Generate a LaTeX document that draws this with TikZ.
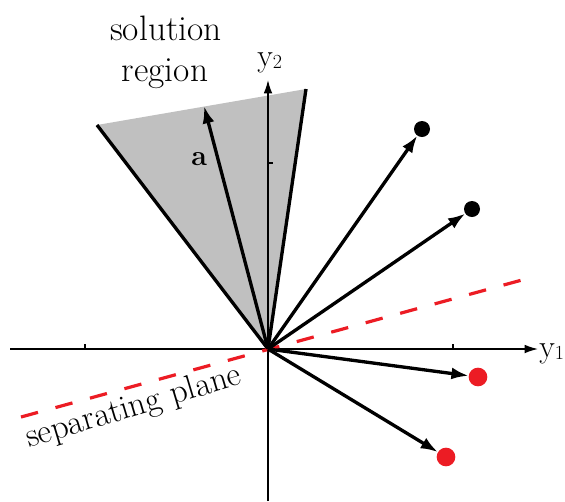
\documentclass[tikz,border=0pt]{standalone}
\usetikzlibrary{arrows.meta}
\definecolor{regiongray}{RGB}{192,192,192}
\definecolor{ptred}{RGB}{236,28,36}
\begin{document}
\begin{tikzpicture}[x=0.75pt,y=-0.75pt,
  axis/.style={line width=1.1pt},
  axisarrow/.style={axis,-{Latex[length=10pt,width=6.5pt]}},
  vec/.style={line width=2.5pt,-{Latex[length=13pt,width=9pt]}},
  edge/.style={line width=2.5pt},
  bdot/.style={circle,fill=black,inner sep=0pt,outer sep=0pt,minimum size=12pt},
  rdot/.style={circle,fill=ptred,inner sep=0pt,outer sep=0pt,minimum size=14pt},
  sep/.style={ptred,line width=2.4pt,dash pattern=on 13.2pt off 13.6pt},
  lbl/.style={inner sep=0pt,font=\fontsize{26.5}{30}\selectfont},
  axlbl/.style={inner sep=0pt,font=\fontsize{24}{26}\selectfont}
]
\useasboundingbox (0,0) rectangle (565,501);
\coordinate (O) at (268,349);
\coordinate (cl) at (97,125);
\coordinate (cr) at (306,89);
\coordinate (atip) at (204,106);
% solution region
\fill[regiongray] (O) -- (cl) -- (cr) -- cycle;
\draw[edge] (cl) -- (O) -- (cr);
% axes
\coordinate (xs) at (10,349);
\coordinate (xe) at (538,349);
\coordinate (ys) at (268,501);
\coordinate (ye) at (268,80);
\draw[axisarrow] (xs) -- (xe);
\draw[axisarrow] (ys) -- (ye);
\coordinate (t1) at (85,349); \coordinate (t1e) at (85,344);
\coordinate (t2) at (453,349); \coordinate (t2e) at (453,344);
\coordinate (t3) at (268,163); \coordinate (t3e) at (273,163);
\draw[axis] (t1) -- (t1e);
\draw[axis] (t2) -- (t2e);
\draw[axis] (t3) -- (t3e);
% separating plane
\coordinate (sl) at (21,417);
\coordinate (sr) at (522,280);
\draw[sep] (sl) -- (sr);
% points
\node[bdot] (b1) at (422,129) {};
\node[bdot] (b2) at (472,209) {};
\node[rdot] (r1) at (478,377) {};
\node[rdot] (r2) at (446,457) {};
% vectors
\draw[vec] (O) -- (atip);
\draw[vec] (O) -- (b1);
\draw[vec] (O) -- (b2);
\draw[vec] (O) -- (r1);
\draw[vec] (O) -- (r2);
% labels
\node[lbl,anchor=base] (sol1) at (166,40) {solution};
\node[lbl,anchor=base] (sol2) at (165,81) {region};
\node[axlbl,anchor=base west] (y2) at (257,66) {y\raisebox{-2pt}{\fontsize{15}{15}\selectfont 2}};
\node[axlbl,anchor=base west] (y1) at (539,357) {y\raisebox{-2pt}{\fontsize{15}{15}\selectfont 1}};
\node[inner sep=0pt,anchor=base west,font=\fontsize{21.5}{24}\selectfont\bfseries] (alab) at (191,165) {a};
\node[lbl,anchor=base west,rotate=16.7,font=\fontsize{25.5}{30}\selectfont] (seplab) at (29,448) {separating plane};
\end{tikzpicture}
\end{document}
